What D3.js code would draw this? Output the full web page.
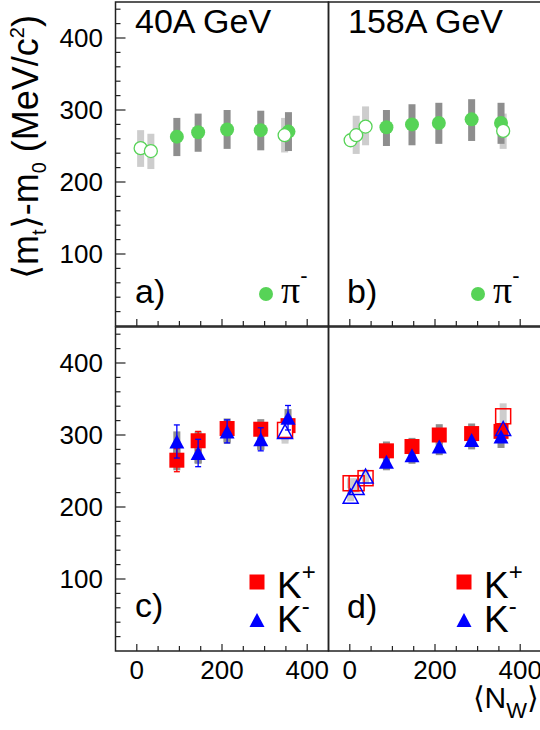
<!DOCTYPE html>
<html>
<head>
  <title>mt - m0 vs Nw</title>
  <script src="https://d3js.org/d3.v7.min.js"></script>
  <style>
    body { margin: 0; background: #fff; }
    text { font-family: "Liberation Sans", Arial, sans-serif; fill: #000; }
  </style>
</head>
<body>
  <div id="chart"></div>
  <script>
    // <Nw>, <mt>-m0 (MeV), systematic range (lo, hi), stat error e
    const pi40Filled = [
      {n: 94, m: 263, lo: 236, hi: 289}, {n: 144, m: 269, lo: 242, hi: 295},
      {n: 212, m: 273, lo: 246, hi: 300}, {n: 291, m: 272, lo: 244, hi: 299},
      {n: 356, m: 270, lo: 243, hi: 297}
    ];
    const pi40Open = [
      {n: 9, m: 247, lo: 221, hi: 272}, {n: 33, m: 243, lo: 218, hi: 267},
      {n: 347, m: 265, lo: 241, hi: 289}
    ];
    const pi158Filled = [
      {n: 86, m: 276, lo: 250, hi: 300}, {n: 146, m: 280, lo: 251, hi: 308},
      {n: 209, m: 282, lo: 253, hi: 310}, {n: 286, m: 287, lo: 257, hi: 315},
      {n: 355, m: 282, lo: 253, hi: 310}
    ];
    const pi158Open = [
      {n: 2, m: 258, lo: null, hi: null}, {n: 15, m: 265, lo: 239, hi: 292},
      {n: 37, m: 277, lo: 251, hi: 305}, {n: 360, m: 271, lo: 246, hi: 295}
    ];
    const kp40Filled = [
      {n: 94, m: 265, lo: 251, hi: 282, e: 16}, {n: 144, m: 292, lo: 261, hi: 305, e: 13},
      {n: 212, m: 309, lo: 288, hi: 323, e: 8}, {n: 291, m: 308, lo: 279, hi: 322, e: 8},
      {n: 355, m: 313, lo: 296, hi: 326, e: 8}
    ];
    const kp40Open = [{n: 348, m: 307, lo: 288, hi: 318}];
    const km40Filled = [
      {n: 94, m: 291, lo: 275, hi: 305, e: 23}, {n: 144, m: 275, lo: 260, hi: 292, e: 19},
      {n: 212, m: 305, lo: 290, hi: 318, e: 16}, {n: 291, m: 294, lo: 280, hi: 308, e: 16},
      {n: 355, m: 324, lo: 310, hi: 336, e: 17}
    ];
    const km40Open = [{n: 348, m: 305, lo: 292, hi: 316}];
    const kp158Filled = [
      {n: 86, m: 278, lo: 265, hi: 291}, {n: 146, m: 284, lo: 271, hi: 296},
      {n: 210, m: 300, lo: 287, hi: 315}, {n: 286, m: 302, lo: 290, hi: 316},
      {n: 355, m: 305, lo: 293, hi: 316}
    ];
    const kp158Open = [
      {n: 2, m: 233, lo: 226, hi: 240}, {n: 16, m: 233, lo: 226, hi: 240},
      {n: 37, m: 240, lo: 232, hi: 250}, {n: 360, m: 326, lo: 310, hi: 344}
    ];
    const km158Filled = [
      {n: 86, m: 263, lo: 251, hi: 275}, {n: 146, m: 272, lo: 260, hi: 284},
      {n: 210, m: 284, lo: 272, hi: 296}, {n: 286, m: 293, lo: 280, hi: 306},
      {n: 355, m: 298, lo: 282, hi: 312}
    ];
    const km158Open = [
      {n: 2, m: 215, lo: 208, hi: 222}, {n: 16, m: 227, lo: 220, hi: 234},
      {n: 37, m: 243, lo: 236, hi: 252}, {n: 360, m: 309, lo: 300, hi: 318}
    ];
    const yTickLabels = [100, 200, 300, 400];
    const xTickLabels = [0, 200, 400];

    const green = "#57d357", red = "#ff0000", blue = "#0000ff";
    const darkSys = "#8e8e8e", lightSys = "#cdcdcd";

    const svg = d3.select("#chart").append("svg")
      .attr("width", 540).attr("height", 730);

    const panels = [
      {xr: [115.5, 328.5], yr: [326, 2], left: true, bottom: false},
      {xr: [328.5, 541.5], yr: [326, 2], left: false, bottom: false},
      {xr: [115.5, 328.5], yr: [651, 327], left: true, bottom: true},
      {xr: [328.5, 541.5], yr: [651, 327], left: false, bottom: true}
    ];
    panels.forEach(p => {
      p.x = d3.scaleLinear().domain([-50, 450]).range(p.xr);
      p.y = d3.scaleLinear().domain([0, 450]).range(p.yr);
    });

    // frames + ticks
    panels.forEach(p => {
      const g = svg.append("g");
      g.append("rect")
        .attr("x", p.xr[0]).attr("y", p.yr[1])
        .attr("width", p.xr[1] - p.xr[0]).attr("height", p.yr[0] - p.yr[1])
        .attr("fill", "none").attr("stroke", "#222").attr("stroke-width", 1.5);

      d3.range(0, 401, 50).forEach(v => {
        const len = v % 200 === 0 ? 7 : 5;
        g.append("line")
          .attr("x1", p.x(v)).attr("x2", p.x(v))
          .attr("y1", p.yr[0]).attr("y2", p.yr[0] - len)
          .attr("stroke", "#222").attr("stroke-width", 1.2);
      });
      if (p.left) {
        d3.range(20, 441, 20).forEach(v => {
          const len = v % 100 === 0 ? 10 : 5;
          g.append("line")
            .attr("x1", p.xr[0]).attr("x2", p.xr[0] + len)
            .attr("y1", p.y(v)).attr("y2", p.y(v))
            .attr("stroke", "#222").attr("stroke-width", 1.2);
        });
        g.selectAll(".ylab").data(yTickLabels).enter().append("text")
          .attr("x", 103).attr("y", d => p.y(d)).attr("dy", "0.36em")
          .attr("text-anchor", "end").attr("font-size", 26).text(d => d);
      }
      if (p.bottom) {
        g.selectAll(".xlab").data(xTickLabels).enter().append("text")
          .attr("x", d => p.x(d)).attr("y", 679)
          .attr("text-anchor", "middle").attr("font-size", 26).text(d => d);
      }
    });

    const sysW = 7;
    function sysBars(p, data, color) {
      svg.append("g").selectAll("rect").data(data.filter(d => d.lo != null)).enter()
        .append("rect")
        .attr("x", d => p.x(d.n) - sysW / 2).attr("width", sysW)
        .attr("y", d => p.y(d.hi)).attr("height", d => p.y(d.lo) - p.y(d.hi))
        .attr("fill", color);
    }
    function statBars(p, data, color) {
      const g = svg.append("g").attr("stroke", color).attr("stroke-width", 1.3);
      data.filter(d => d.e).forEach(d => {
        const x = p.x(d.n), y1 = p.y(d.m - d.e), y2 = p.y(d.m + d.e);
        g.append("line").attr("x1", x).attr("x2", x).attr("y1", y1).attr("y2", y2);
        g.append("line").attr("x1", x - 3).attr("x2", x + 3).attr("y1", y1).attr("y2", y1);
        g.append("line").attr("x1", x - 3).attr("x2", x + 3).attr("y1", y2).attr("y2", y2);
      });
    }
    function circles(p, data, color, open) {
      svg.append("g").selectAll("circle").data(data).enter().append("circle")
        .attr("cx", d => p.x(d.n)).attr("cy", d => p.y(d.m)).attr("r", open ? 6.5 : 7)
        .attr("fill", open ? "#fff" : color)
        .attr("stroke", color).attr("stroke-width", open ? 1.3 : 0);
    }
    function squares(p, data, color, open) {
      const s = 15;
      svg.append("g").selectAll("rect").data(data).enter().append("rect")
        .attr("x", d => p.x(d.n) - s / 2).attr("y", d => p.y(d.m) - s / 2)
        .attr("width", s).attr("height", s)
        .attr("fill", open ? "none" : color)
        .attr("stroke", color).attr("stroke-width", open ? 1.5 : 0);
    }
    const tri = (cx, cy, w, h) =>
      `M${cx},${cy - h / 2}L${cx + w / 2},${cy + h / 2}L${cx - w / 2},${cy + h / 2}Z`;
    function triangles(p, data, color, open) {
      svg.append("g").selectAll("path").data(data).enter().append("path")
        .attr("d", d => tri(p.x(d.n), p.y(d.m), 15, 14))
        .attr("fill", open ? "none" : color)
        .attr("stroke", color).attr("stroke-width", open ? 1.5 : 0);
    }

    // panel a
    sysBars(panels[0], pi40Open, lightSys);
    sysBars(panels[0], pi40Filled, darkSys);
    circles(panels[0], pi40Filled, green, false);
    circles(panels[0], pi40Open, green, true);
    // panel b
    sysBars(panels[1], pi158Open, lightSys);
    sysBars(panels[1], pi158Filled, darkSys);
    circles(panels[1], pi158Filled, green, false);
    circles(panels[1], pi158Open, green, true);
    // panel c
    sysBars(panels[2], kp40Open, lightSys);
    sysBars(panels[2], km40Open, lightSys);
    sysBars(panels[2], kp40Filled, darkSys);
    sysBars(panels[2], km40Filled, darkSys);
    statBars(panels[2], kp40Filled, red);
    squares(panels[2], kp40Filled, red, false);
    svg.append("g").selectAll("rect").data(kp40Open).enter().append("rect")
      .attr("x", d => panels[2].x(d.n) - 7.5).attr("y", d => panels[2].y(d.m) - 7.5)
      .attr("width", 15).attr("height", 15).attr("fill", "#fff");
    squares(panels[2], kp40Open, red, true);
    triangles(panels[2], km40Open, blue, true);
    statBars(panels[2], km40Filled, blue);
    triangles(panels[2], km40Filled, blue, false);
    // panel d
    sysBars(panels[3], kp158Open, lightSys);
    sysBars(panels[3], km158Open, lightSys);
    sysBars(panels[3], kp158Filled, darkSys);
    sysBars(panels[3], km158Filled, darkSys);
    squares(panels[3], kp158Filled, red, false);
    triangles(panels[3], km158Filled, blue, false);
    squares(panels[3], kp158Open, red, true);
    triangles(panels[3], km158Open, blue, true);

    // energy labels and panel letters
    const big = 34;
    svg.append("text").attr("x", 135).attr("y", 33).attr("font-size", big).text("40A GeV");
    svg.append("text").attr("x", 348).attr("y", 33).attr("font-size", big).text("158A GeV");
    [["a)", 135, 303], ["b)", 347, 303], ["c)", 135, 617], ["d)", 347, 618]].forEach(t =>
      svg.append("text").attr("x", t[1]).attr("y", t[2]).attr("font-size", big).text(t[0]));

    // legends
    [[266, 294], [478, 294]].forEach(([x, y]) => {
      svg.append("circle").attr("cx", x).attr("cy", y).attr("r", 7).attr("fill", green);
      const t = svg.append("text").attr("x", x + 15).attr("y", y + 9)
        .style("font-family", "'Liberation Serif', 'DejaVu Serif', serif").attr("font-size", 38);
      t.append("tspan").text("π");
      t.append("tspan").attr("font-size", 22).attr("dy", -20)
        .style("font-family", "'Liberation Sans', sans-serif").text("-");
    });
    [[257, 582], [464, 582]].forEach(([x, y]) => {
      svg.append("rect").attr("x", x - 7.5).attr("y", y - 7.5).attr("width", 15).attr("height", 15).attr("fill", red);
      const t1 = svg.append("text").attr("x", x + 20).attr("y", y + 16).attr("font-size", 37);
      t1.append("tspan").text("K");
      t1.append("tspan").attr("font-size", 24).attr("dy", -18).text("+");
      svg.append("path").attr("d", tri(x, y + 38, 15, 14)).attr("fill", blue);
      const t2 = svg.append("text").attr("x", x + 20).attr("y", y + 50).attr("font-size", 37);
      t2.append("tspan").text("K");
      t2.append("tspan").attr("font-size", 24).attr("dy", -18).text("-");
    });

    // axis titles
    const yt = svg.append("text").attr("transform", "translate(38,147) rotate(-90)")
      .attr("text-anchor", "middle").attr("font-size", 36);
    yt.append("tspan").text("\u27E8m");
    yt.append("tspan").attr("font-size", 20).attr("dy", 8).text("t");
    yt.append("tspan").attr("dy", -8).text("\u27E9-m");
    yt.append("tspan").attr("font-size", 20).attr("dy", 8).text("0");
    yt.append("tspan").attr("dy", -8).text(" (MeV/c");
    yt.append("tspan").attr("font-size", 20).attr("dy", -14).text("2");
    yt.append("tspan").attr("dy", 14).text(")");

    const xt = svg.append("text").attr("x", 539).attr("y", 708)
      .attr("text-anchor", "end").attr("font-size", 30);
    xt.append("tspan").text("\u27E8N");
    xt.append("tspan").attr("font-size", 22).attr("dy", 10).text("W");
    xt.append("tspan").attr("dy", -10).text("\u27E9");
  </script>
</body>
</html>
